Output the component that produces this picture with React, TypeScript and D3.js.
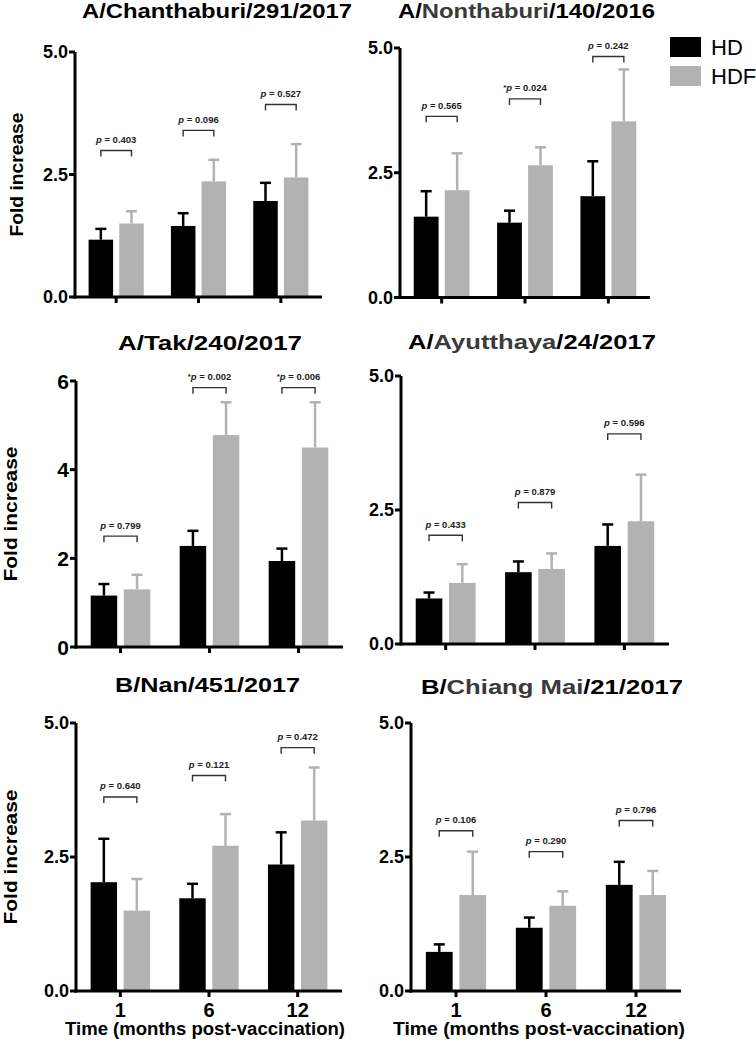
import React from "react";
import * as d3 from "d3";

// ---------- DATA ----------
const timepoints = ["1", "6", "12"];
const seriesNames = ["HD", "HDF"];

const strainTitles = [
  ["A/", "Chanthaburi", "/291/2017"],
  ["A/", "Nonthaburi", "/140/2016"],
  ["A/", "Tak", "/240/2017"],
  ["A/", "Ayutthaya", "/24/2017"],
  ["B/", "Nan", "/451/2017"],
  ["B/", "Chiang Mai", "/21/2017"],
];

// means and upper error (SEM) per time point
const chanthaburiHD = [1.17, 1.45, 1.96];
const chanthaburiHDErr = [0.22, 0.26, 0.37];
const chanthaburiHDF = [1.5, 2.36, 2.44];
const chanthaburiHDFErr = [0.25, 0.44, 0.68];
const chanthaburiP = ["0.403", "0.096", "0.527"];
const chanthaburiSig = [false, false, false];
const chanthaburiBracket = [2.99, 3.4, 3.93];

const nonthaburiHD = [1.62, 1.5, 2.03];
const nonthaburiHDErr = [0.51, 0.24, 0.7];
const nonthaburiHDF = [2.15, 2.65, 3.53];
const nonthaburiHDFErr = [0.74, 0.36, 1.04];
const nonthaburiP = ["0.565", "0.024", "0.242"];
const nonthaburiSig = [false, true, false];
const nonthaburiBracket = [3.63, 3.98, 4.83];

const takHD = [1.16, 2.28, 1.94];
const takHDErr = [0.26, 0.34, 0.28];
const takHDF = [1.3, 4.78, 4.5];
const takHDFErr = [0.33, 0.74, 1.02];
const takP = ["0.799", "0.002", "0.006"];
const takSig = [false, true, true];
const takBracket = [2.5, 5.85, 5.85];

const ayutthayaHD = [0.85, 1.34, 1.83];
const ayutthayaHDErr = [0.11, 0.2, 0.4];
const ayutthayaHDF = [1.14, 1.4, 2.29];
const ayutthayaHDFErr = [0.35, 0.29, 0.87];
const ayutthayaP = ["0.433", "0.879", "0.596"];
const ayutthayaSig = [false, false, false];
const ayutthayaBracket = [2.03, 2.64, 3.92];

const nanHD = [2.03, 1.73, 2.36];
const nanHDErr = [0.81, 0.27, 0.6];
const nanHDF = [1.5, 2.71, 3.18];
const nanHDFErr = [0.59, 0.59, 0.99];
const nanP = ["0.640", "0.121", "0.472"];
const nanSig = [false, false, false];
const nanBracket = [3.62, 4.02, 4.54];

const chiangMaiHD = [0.73, 1.18, 1.98];
const chiangMaiHDErr = [0.14, 0.19, 0.43];
const chiangMaiHDF = [1.79, 1.59, 1.79];
const chiangMaiHDFErr = [0.81, 0.27, 0.45];
const chiangMaiP = ["0.106", "0.290", "0.796"];
const chiangMaiSig = [false, false, false];
const chiangMaiBracket = [2.99, 2.6, 3.18];

const yTicks5 = [0, 2.5, 5];
const yTicks6 = [0, 2, 4, 6];

const yLabel = "Fold increase";
const xLabel = "Time (months post-vaccination)";

// ---------- LAYOUT / STYLE ----------
const FONT = "'Liberation Sans', Arial, Helvetica, sans-serif";
const COLORS = ["#000000", "#b2b2b2"];

const panelsData = [
  { hd: chanthaburiHD, hdErr: chanthaburiHDErr, hdf: chanthaburiHDF, hdfErr: chanthaburiHDFErr, p: chanthaburiP, sig: chanthaburiSig, br: chanthaburiBracket, ticks: yTicks5 },
  { hd: nonthaburiHD, hdErr: nonthaburiHDErr, hdf: nonthaburiHDF, hdfErr: nonthaburiHDFErr, p: nonthaburiP, sig: nonthaburiSig, br: nonthaburiBracket, ticks: yTicks5 },
  { hd: takHD, hdErr: takHDErr, hdf: takHDF, hdfErr: takHDFErr, p: takP, sig: takSig, br: takBracket, ticks: yTicks6 },
  { hd: ayutthayaHD, hdErr: ayutthayaHDErr, hdf: ayutthayaHDF, hdfErr: ayutthayaHDFErr, p: ayutthayaP, sig: ayutthayaSig, br: ayutthayaBracket, ticks: yTicks5 },
  { hd: nanHD, hdErr: nanHDErr, hdf: nanHDF, hdfErr: nanHDFErr, p: nanP, sig: nanSig, br: nanBracket, ticks: yTicks5 },
  { hd: chiangMaiHD, hdErr: chiangMaiHDErr, hdf: chiangMaiHDF, hdfErr: chiangMaiHDFErr, p: chiangMaiP, sig: chiangMaiSig, br: chiangMaiBracket, ticks: yTicks5 },
];

const layouts = [
  { x0: 75, x1: 322, yTop: 52, yZero: 297, title: { cx: 217, y: 18, w: 270 }, yl: { x: 23, w: 124 }, tickFs: 18 },
  { x0: 400, x1: 650, yTop: 48, yZero: 297.5, title: { cx: 526.5, y: 18, w: 257 }, yl: null, tickFs: 18 },
  { x0: 76, x1: 343, yTop: 381, yZero: 647, title: { cx: 210, y: 350, w: 184 }, yl: { x: 17, w: 135 }, tickFs: 21 },
  { x0: 401, x1: 669, yTop: 376, yZero: 644, title: { cx: 532, y: 349, w: 248 }, yl: null, tickFs: 18 },
  { x0: 76, x1: 342, yTop: 723, yZero: 991, title: { cx: 207.5, y: 692, w: 185 }, yl: { x: 17, w: 135 }, tickFs: 18, xl: { cx: 205, y: 1035, w: 280 } },
  { x0: 411, x1: 681, yTop: 723, yZero: 991, title: { cx: 552, y: 694, w: 262 }, yl: null, tickFs: 18, xl: { cx: 539, y: 1035, w: 292 } },
];

function Panel({ idx }: { idx: number }) {
  const d = panelsData[idx];
  const L = layouts[idx];
  const yMax = d3.max(d.ticks) as number;
  const y = d3.scaleLinear().domain([0, yMax]).range([L.yZero, L.yTop]);
  const x = d3.scaleBand<string>().domain(timepoints).range([L.x0, L.x1]).paddingInner(0.33).paddingOuter(0.165);
  const xs = d3.scaleBand<string>().domain(seriesNames).range([0, x.bandwidth()]).paddingInner(0.2);
  const bw = xs.bandwidth();
  const fmt = yMax === 5 ? d3.format(".1f") : d3.format("d");
  const t = strainTitles[idx];
  const means = [d.hd, d.hdf];
  const errs = [d.hdErr, d.hdfErr];

  return (
    <g>
      {/* title */}
      <text x={L.title.cx} y={L.title.y} textAnchor="middle" fontFamily={FONT} fontWeight="bold" fontSize={20}
        textLength={L.title.w} lengthAdjust="spacingAndGlyphs">
        <tspan fill="#000">{t[0]}</tspan>
        <tspan fill={idx % 2 === 1 ? "#3a3a3a" : "#000"}>{t[1]}</tspan>
        <tspan fill="#000">{t[2]}</tspan>
      </text>

      {/* bars and error bars */}
      {timepoints.map((tp, i) =>
        seriesNames.map((s, si) => {
          const bx = (x(tp) as number) + (xs(s) as number);
          const m = means[si][i];
          const e = errs[si][i];
          const cx = bx + bw / 2;
          return (
            <g key={tp + s}>
              <rect x={bx} y={y(m)} width={bw} height={L.yZero - y(m)} fill={COLORS[si]} />
              <line x1={cx} x2={cx} y1={y(m)} y2={y(m + e)} stroke={COLORS[si]} strokeWidth={2.5} />
              <line x1={cx - 5.5} x2={cx + 5.5} y1={y(m + e)} y2={y(m + e)} stroke={COLORS[si]} strokeWidth={2.5} />
            </g>
          );
        })
      )}

      {/* p-value brackets */}
      {timepoints.map((tp, i) => {
        const xa = (x(tp) as number) + (xs("HD") as number) + bw / 2;
        const xb = (x(tp) as number) + (xs("HDF") as number) + bw / 2;
        const yb = y(d.br[i]);
        const mid = (xa + xb) / 2;
        return (
          <g key={"br" + tp}>
            <path d={`M${xa},${yb + 6}V${yb}H${xb}V${yb + 6}`} fill="none" stroke="#333" strokeWidth={1.4} />
            <text x={mid} y={yb - 7.5} textAnchor="middle" fontFamily={FONT} fontWeight="bold" fontSize={9.5} fill="#222">
              {d.sig[i] ? <tspan fontSize={8} dy={-1}>*</tspan> : null}
              <tspan fontStyle="italic" dy={d.sig[i] ? 1 : 0}>p</tspan>
              <tspan>{" = " + d.p[i]}</tspan>
            </text>
          </g>
        );
      })}

      {/* y axis */}
      <line x1={L.x0} x2={L.x0} y1={L.yTop} y2={L.yZero + 1.5} stroke="#000" strokeWidth={3} />
      {d.ticks.map((tk) => (
        <g key={"yt" + tk}>
          <line x1={L.x0 - 6} x2={L.x0} y1={y(tk)} y2={y(tk)} stroke="#000" strokeWidth={3} />
          <text x={L.x0 - 7} y={y(tk)} dy="0.36em" textAnchor="end" fontFamily={FONT} fontWeight="bold" fontSize={L.tickFs}>
            {fmt(tk)}
          </text>
        </g>
      ))}

      {/* x axis */}
      <line x1={L.x0 - 1.5} x2={L.x1} y1={L.yZero} y2={L.yZero} stroke="#000" strokeWidth={3} />
      {timepoints.map((tp) => {
        const cx = (x(tp) as number) + x.bandwidth() / 2;
        return (
          <g key={"xt" + tp}>
            <line x1={cx} x2={cx} y1={L.yZero} y2={L.yZero + 6} stroke="#000" strokeWidth={3} />
            {L.xl ? (
              <text x={cx} y={L.yZero + 26} textAnchor="middle" fontFamily={FONT} fontWeight="bold" fontSize={20}>
                {tp}
              </text>
            ) : null}
          </g>
        );
      })}

      {/* axis labels */}
      {L.yl ? (
        <text transform={`translate(${L.yl.x},${(L.yTop + L.yZero) / 2}) rotate(-90)`} textAnchor="middle" fontFamily={FONT}
          fontWeight="bold" fontSize={19} textLength={L.yl.w} lengthAdjust="spacingAndGlyphs">
          {yLabel}
        </text>
      ) : null}
      {L.xl ? (
        <text x={L.xl.cx} y={L.xl.y} textAnchor="middle" fontFamily={FONT} fontWeight="bold" fontSize={18}
          textLength={L.xl.w} lengthAdjust="spacingAndGlyphs">
          {xLabel}
        </text>
      ) : null}
    </g>
  );
}

export default function App() {
  const legendY = [37, 66];
  return (
    <svg width={756} height={1044} style={{ position: "absolute", left: 0, top: 0, background: "#fff" }}>
      <rect width={756} height={1044} fill="#fff" />
      {panelsData.map((_, i) => (
        <Panel key={i} idx={i} />
      ))}
      {seriesNames.map((s, i) => (
        <g key={"lg" + s}>
          <rect x={670} y={legendY[i]} width={31} height={20} fill={COLORS[i]} />
          <text x={711} y={legendY[i] + 18} fontFamily={FONT} fontSize={22} fill="#000">
            {s}
          </text>
        </g>
      ))}
    </svg>
  );
}
